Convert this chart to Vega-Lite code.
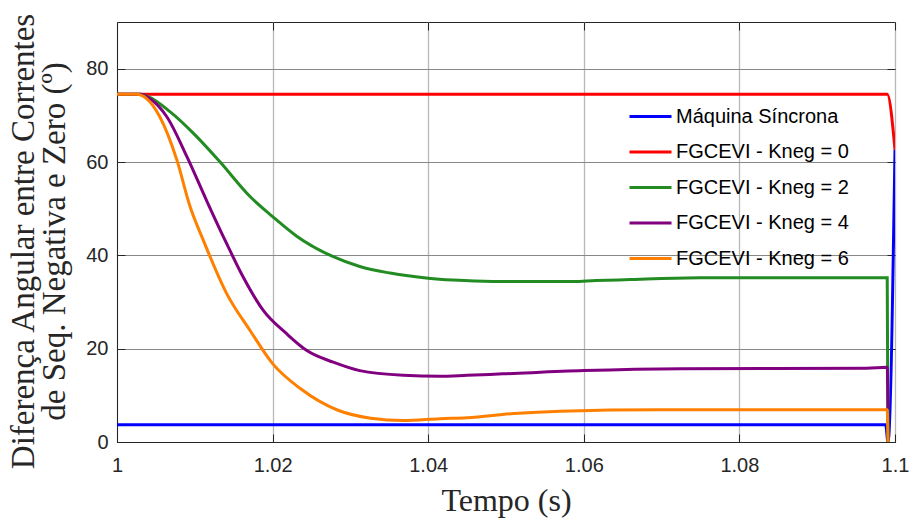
{
  "$schema": "https://vega.github.io/schema/vega-lite/v6.json",
  "autosize": "none",
  "width": 778,
  "height": 420,
  "padding": {"left": 117, "top": 22, "right": 17, "bottom": 76},
  "background": "white",
  "config": {
    "view": {"stroke": "#262626", "strokeWidth": 1},
    "axis": {
      "labelFont": "Liberation Sans",
      "labelFontSize": 20,
      "labelColor": "#262626",
      "labelFlush": false,
      "titleFont": "Liberation Serif",
      "titleFontSize": 32,
      "titleFontWeight": "normal",
      "titleColor": "#262626",
      "domainColor": "#262626",
      "tickColor": "#262626",
      "tickSize": -8,
      "tickWidth": 1
    }
  },
  "data": {
    "values": [
      {"t": 1.0, "v": 3.7, "s": "Máquina Síncrona"},
      {"t": 1.0988, "v": 3.7, "s": "Máquina Síncrona"},
      {"t": 1.0991, "v": 0, "s": "Máquina Síncrona"},
      {"t": 1.1, "v": 62.6, "s": "Máquina Síncrona"},

      {"t": 1.0, "v": 74.5, "s": "FGCEVI - Kneg = 0"},
      {"t": 1.099, "v": 74.5, "s": "FGCEVI - Kneg = 0"},
      {"t": 1.1, "v": 62.6, "s": "FGCEVI - Kneg = 0"},

      {"t": 1.0, "v": 74.5, "s": "FGCEVI - Kneg = 2"},
      {"t": 1.003, "v": 74.5, "s": "FGCEVI - Kneg = 2"},
      {"t": 1.004, "v": 74.0, "s": "FGCEVI - Kneg = 2"},
      {"t": 1.0068, "v": 70.8, "s": "FGCEVI - Kneg = 2"},
      {"t": 1.0098, "v": 66.2, "s": "FGCEVI - Kneg = 2"},
      {"t": 1.0132, "v": 60.1, "s": "FGCEVI - Kneg = 2"},
      {"t": 1.0171, "v": 52.6, "s": "FGCEVI - Kneg = 2"},
      {"t": 1.02, "v": 48.3, "s": "FGCEVI - Kneg = 2"},
      {"t": 1.0231, "v": 44.1, "s": "FGCEVI - Kneg = 2"},
      {"t": 1.0278, "v": 39.7, "s": "FGCEVI - Kneg = 2"},
      {"t": 1.0312, "v": 37.6, "s": "FGCEVI - Kneg = 2"},
      {"t": 1.0351, "v": 36.2, "s": "FGCEVI - Kneg = 2"},
      {"t": 1.04, "v": 35.1, "s": "FGCEVI - Kneg = 2"},
      {"t": 1.0432, "v": 34.7, "s": "FGCEVI - Kneg = 2"},
      {"t": 1.0483, "v": 34.4, "s": "FGCEVI - Kneg = 2"},
      {"t": 1.0586, "v": 34.4, "s": "FGCEVI - Kneg = 2"},
      {"t": 1.0615, "v": 34.6, "s": "FGCEVI - Kneg = 2"},
      {"t": 1.066, "v": 34.8, "s": "FGCEVI - Kneg = 2"},
      {"t": 1.075, "v": 35.2, "s": "FGCEVI - Kneg = 2"},
      {"t": 1.099, "v": 35.2, "s": "FGCEVI - Kneg = 2"},
      {"t": 1.0991, "v": 0, "s": "FGCEVI - Kneg = 2"},

      {"t": 1.0, "v": 74.5, "s": "FGCEVI - Kneg = 4"},
      {"t": 1.003, "v": 74.5, "s": "FGCEVI - Kneg = 4"},
      {"t": 1.0042, "v": 73.6, "s": "FGCEVI - Kneg = 4"},
      {"t": 1.0064, "v": 69.7, "s": "FGCEVI - Kneg = 4"},
      {"t": 1.009, "v": 61.1, "s": "FGCEVI - Kneg = 4"},
      {"t": 1.0115, "v": 51.8, "s": "FGCEVI - Kneg = 4"},
      {"t": 1.0141, "v": 42.5, "s": "FGCEVI - Kneg = 4"},
      {"t": 1.0162, "v": 35.4, "s": "FGCEVI - Kneg = 4"},
      {"t": 1.0188, "v": 28.2, "s": "FGCEVI - Kneg = 4"},
      {"t": 1.0218, "v": 23.2, "s": "FGCEVI - Kneg = 4"},
      {"t": 1.0244, "v": 19.6, "s": "FGCEVI - Kneg = 4"},
      {"t": 1.0278, "v": 17.1, "s": "FGCEVI - Kneg = 4"},
      {"t": 1.0312, "v": 15.3, "s": "FGCEVI - Kneg = 4"},
      {"t": 1.0368, "v": 14.3, "s": "FGCEVI - Kneg = 4"},
      {"t": 1.0415, "v": 14.1, "s": "FGCEVI - Kneg = 4"},
      {"t": 1.045, "v": 14.3, "s": "FGCEVI - Kneg = 4"},
      {"t": 1.0496, "v": 14.6, "s": "FGCEVI - Kneg = 4"},
      {"t": 1.06, "v": 15.3, "s": "FGCEVI - Kneg = 4"},
      {"t": 1.0725, "v": 15.7, "s": "FGCEVI - Kneg = 4"},
      {"t": 1.0964, "v": 15.8, "s": "FGCEVI - Kneg = 4"},
      {"t": 1.099, "v": 16.0, "s": "FGCEVI - Kneg = 4"},
      {"t": 1.0991, "v": 7.0, "s": "FGCEVI - Kneg = 4"},

      {"t": 1.0, "v": 74.5, "s": "FGCEVI - Kneg = 6"},
      {"t": 1.0025, "v": 74.5, "s": "FGCEVI - Kneg = 6"},
      {"t": 1.0038, "v": 73.6, "s": "FGCEVI - Kneg = 6"},
      {"t": 1.0055, "v": 69.7, "s": "FGCEVI - Kneg = 6"},
      {"t": 1.0077, "v": 60.4, "s": "FGCEVI - Kneg = 6"},
      {"t": 1.0094, "v": 50.4, "s": "FGCEVI - Kneg = 6"},
      {"t": 1.0111, "v": 43.2, "s": "FGCEVI - Kneg = 6"},
      {"t": 1.0141, "v": 31.8, "s": "FGCEVI - Kneg = 6"},
      {"t": 1.0171, "v": 23.9, "s": "FGCEVI - Kneg = 6"},
      {"t": 1.02, "v": 16.8, "s": "FGCEVI - Kneg = 6"},
      {"t": 1.0236, "v": 11.4, "s": "FGCEVI - Kneg = 6"},
      {"t": 1.0284, "v": 6.8, "s": "FGCEVI - Kneg = 6"},
      {"t": 1.0326, "v": 5.1, "s": "FGCEVI - Kneg = 6"},
      {"t": 1.0368, "v": 4.6, "s": "FGCEVI - Kneg = 6"},
      {"t": 1.0415, "v": 5.0, "s": "FGCEVI - Kneg = 6"},
      {"t": 1.045, "v": 5.2, "s": "FGCEVI - Kneg = 6"},
      {"t": 1.051, "v": 6.1, "s": "FGCEVI - Kneg = 6"},
      {"t": 1.057, "v": 6.6, "s": "FGCEVI - Kneg = 6"},
      {"t": 1.0698, "v": 6.9, "s": "FGCEVI - Kneg = 6"},
      {"t": 1.099, "v": 6.9, "s": "FGCEVI - Kneg = 6"},
      {"t": 1.0991, "v": 0, "s": "FGCEVI - Kneg = 6"}
    ]
  },
  "layer": [
    {
      "mark": {"type": "line", "strokeWidth": 3, "clip": true, "interpolate": "monotone"},
      "encoding": {
        "x": {
          "field": "t",
          "type": "quantitative",
          "scale": {"domain": [1, 1.1], "nice": false, "zero": false},
          "axis": {
            "values": [1, 1.02, 1.04, 1.06, 1.08, 1.1],
            "format": ".2~f",
            "title": "Tempo (s)",
            "labelPadding": 21,
            "titlePadding": 10,
            "gridColor": "#b8b8b8",
            "gridWidth": 1.3
          }
        },
        "y": {
          "field": "v",
          "type": "quantitative",
          "scale": {"domain": [0, 90], "nice": false},
          "axis": {
            "values": [0, 20, 40, 60, 80],
            "title": ["Diferença Angular entre Correntes", "de Seq. Negativa e Zero (º)"],
            "titleFontSize": 33,
            "titleLineHeight": 31,
            "titleY": 219,
            "labelPadding": 17,
            "titlePadding": 14,
            "gridColor": "#888888",
            "gridWidth": 1
          }
        },
        "color": {
          "field": "s",
          "type": "nominal",
          "sort": null,
          "scale": {
            "domain": ["Máquina Síncrona", "FGCEVI - Kneg = 0", "FGCEVI - Kneg = 2", "FGCEVI - Kneg = 4", "FGCEVI - Kneg = 6"],
            "range": ["#0000ff", "#ff0000", "#228b22", "#800080", "#ff8000"]
          },
          "legend": {
            "title": null,
            "orient": "none",
            "legendX": 511,
            "legendY": 72,
            "padding": 0,
            "symbolType": "stroke",
            "symbolSize": 1764,
            "symbolStrokeWidth": 3,
            "rowPadding": 2.5,
            "labelOffset": 3,
            "labelFont": "Liberation Sans",
            "labelFontSize": 20,
            "labelColor": "#000000",
            "labelLimit": 300
          }
        }
      }
    },
    {
      "mark": {"type": "line", "opacity": 0, "clip": true},
      "encoding": {
        "x": {
          "field": "t",
          "type": "quantitative",
          "axis": {
            "orient": "top",
            "values": [1, 1.02, 1.04, 1.06, 1.08, 1.1],
            "labels": false,
            "title": null,
            "grid": false,
            "domain": false
          }
        },
        "y": {
          "field": "v",
          "type": "quantitative",
          "axis": {
            "orient": "right",
            "values": [0, 20, 40, 60, 80],
            "labels": false,
            "title": null,
            "grid": false,
            "domain": false
          }
        },
        "detail": {"field": "s"}
      }
    }
  ],
  "resolve": {"axis": {"x": "independent", "y": "independent"}}
}
